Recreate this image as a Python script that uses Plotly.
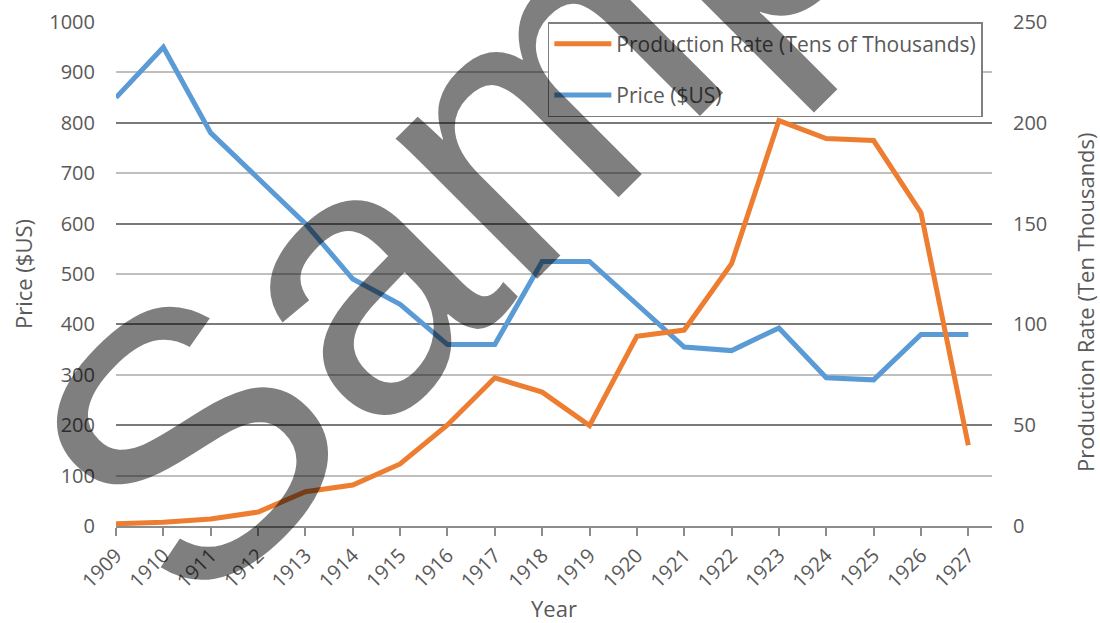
import plotly.graph_objects as go

years = list(range(1909, 1928))
price_usd = [850, 950, 780, 690, 600, 490, 440, 360, 360, 525, 525, 440, 355, 348, 393, 294, 290, 380, 380]
production_ten_thousands = [1.1, 1.9, 3.5, 6.9, 17.0, 20.3, 30.8, 50.1, 73.5, 66.4, 49.8, 94.1, 97.2, 130.1, 201.1, 192.2, 191.2, 155.4, 40.0]

price_ticks = list(range(0, 1001, 100))
prod_ticks = list(range(0, 251, 50))

TXT = "#595959"
FONT = "Open Sans"

fig = go.Figure()
fig.add_trace(go.Scatter(
    x=years, y=production_ten_thousands, yaxis="y2", mode="lines",
    name="Production Rate (Tens of Thousands)", legendgroup="a",
    line=dict(color="#ED7D31", width=5)))
fig.add_trace(go.Scatter(
    x=years, y=price_usd, yaxis="y", mode="lines",
    name="Price ($US)", legendgroup="b",
    line=dict(color="#5B9BD5", width=5)))

fig.update_layout(
    width=1100, height=623,
    margin=dict(l=116, r=108, t=22, b=97, autoexpand=False),
    paper_bgcolor="white", plot_bgcolor="white",
    font=dict(family=FONT, size=20, color=TXT),
    xaxis=dict(
        range=[1909, 1927.5], tickmode="array", tickvals=years,
        ticktext=[str(y) for y in years], tickangle=-45,
        ticks="outside", ticklen=8, tickcolor="#8C8C8C", tickwidth=1.5,
        showline=True, linecolor="#8C8C8C", linewidth=1.5,
        showgrid=False, zeroline=False,
        tickfont=dict(size=20, color=TXT),
        title=dict(text="Year", font=dict(size=22, color=TXT), standoff=4),
    ),
    yaxis=dict(
        range=[0, 1000], tickmode="array", tickvals=price_ticks,
        showgrid=True, gridcolor="#BFBFBF", gridwidth=1.5,
        zeroline=False, showline=False, ticks="",
        ticklabelstandoff=20,
        tickfont=dict(size=20, color=TXT),
        title=dict(text="Price ($US)", font=dict(size=22, color=TXT), standoff=10),
    ),
    yaxis2=dict(
        range=[0, 250], tickmode="array", tickvals=prod_ticks,
        overlaying="y", side="right",
        showgrid=True, gridcolor="#7A7A7A", gridwidth=1.5,
        zeroline=False, showline=False, ticks="",
        ticklabelstandoff=20,
        tickfont=dict(size=20, color=TXT),
    ),
    legend=dict(
        x=0.493, y=1.0, xanchor="left", yanchor="top",
        bgcolor="white", bordercolor="#7F7F7F", borderwidth=1.5,
        font=dict(size=21, color=TXT), tracegroupgap=21,
        traceorder="grouped", itemwidth=57,
    ),
    annotations=[
        dict(text="Production Rate (Ten Thousands)", xref="paper", yref="paper",
             x=1.106, y=0.444, textangle=-90, showarrow=False,
             xanchor="center", yanchor="middle",
             font=dict(size=22, color=TXT, family=FONT)),
        dict(text="Sample", xref="paper", yref="paper",
             x=0.4994, y=0.885, textangle=-45, showarrow=False,
             xanchor="center", yanchor="middle",
             font=dict(size=377, color="rgba(0,0,0,0.5)", family="Liberation Sans")),
    ],
)

fig.write_html(
    "out.html",
    config={"displayModeBar": False},
    post_script="document.body.style.margin='0px';document.body.style.overflow='hidden';",
)
